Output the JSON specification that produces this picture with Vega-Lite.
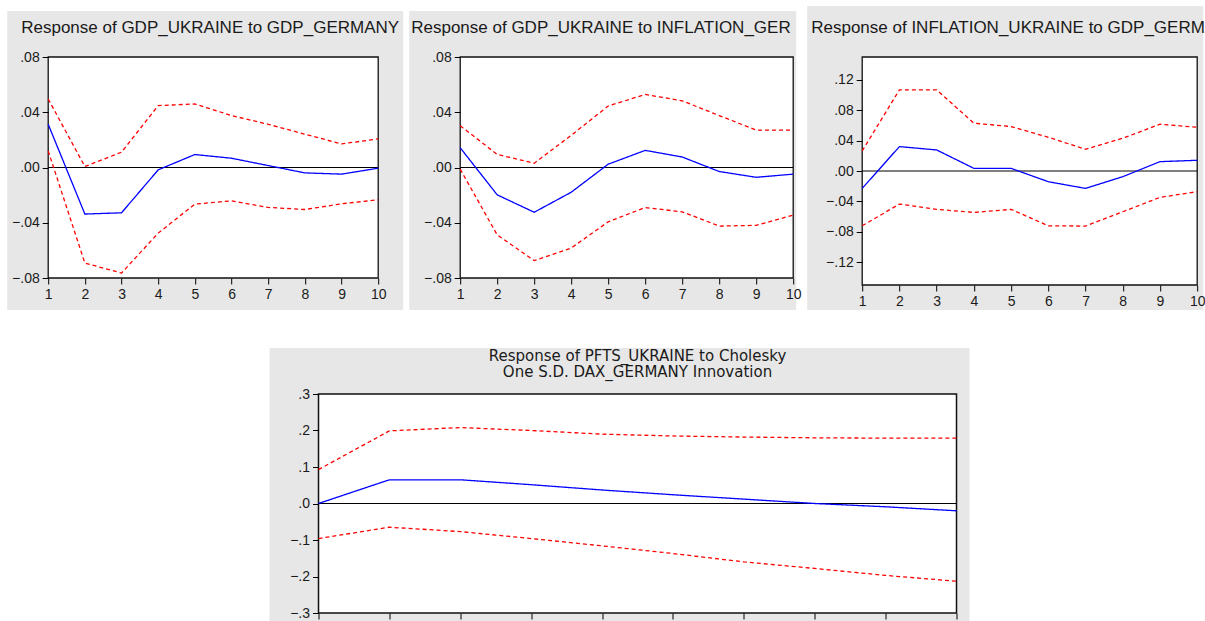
{
  "$schema": "https://vega.github.io/schema/vega-lite/v6.json",
  "background": "white",
  "padding": {"left": 7, "top": 6, "right": 0, "bottom": 0},
  "config": {
    "view": {"stroke": null},
    "axis": {"domain": false, "grid": false, "ticks": true, "tickColor": "#000000", "tickSize": 6, "tickWidth": 1, "labelFont": "Liberation Sans", "labelFontSize": 14, "labelColor": "#1a1a1a", "labelPadding": 3, "labelOverlap": false, "labelFlush": false, "labelBound": false}
  },
  "datasets": {
    "p1": [
      {"h": 1, "s": "irf", "v": 0.0313}, {"h": 2, "s": "irf", "v": -0.0337}, {"h": 3, "s": "irf", "v": -0.0328}, {"h": 4, "s": "irf", "v": -0.0017}, {"h": 5, "s": "irf", "v": 0.0094},
      {"h": 6, "s": "irf", "v": 0.0067}, {"h": 7, "s": "irf", "v": 0.0014}, {"h": 8, "s": "irf", "v": -0.0039}, {"h": 9, "s": "irf", "v": -0.0048}, {"h": 10, "s": "irf", "v": -0.0005},
      {"h": 1, "s": "hi", "v": 0.0496}, {"h": 2, "s": "hi", "v": 0.0007}, {"h": 3, "s": "hi", "v": 0.0111}, {"h": 4, "s": "hi", "v": 0.0448}, {"h": 5, "s": "hi", "v": 0.046},
      {"h": 6, "s": "hi", "v": 0.0376}, {"h": 7, "s": "hi", "v": 0.0313}, {"h": 8, "s": "hi", "v": 0.0241}, {"h": 9, "s": "hi", "v": 0.0171}, {"h": 10, "s": "hi", "v": 0.0207},
      {"h": 1, "s": "lo", "v": 0.012}, {"h": 2, "s": "lo", "v": -0.0692}, {"h": 3, "s": "lo", "v": -0.0764}, {"h": 4, "s": "lo", "v": -0.0475}, {"h": 5, "s": "lo", "v": -0.0265},
      {"h": 6, "s": "lo", "v": -0.0241}, {"h": 7, "s": "lo", "v": -0.0289}, {"h": 8, "s": "lo", "v": -0.0304}, {"h": 9, "s": "lo", "v": -0.0263}, {"h": 10, "s": "lo", "v": -0.0234}
    ],
    "p2": [
      {"h": 1, "s": "irf", "v": 0.0143}, {"h": 2, "s": "irf", "v": -0.0198}, {"h": 3, "s": "irf", "v": -0.0324}, {"h": 4, "s": "irf", "v": -0.0179}, {"h": 5, "s": "irf", "v": 0.0024},
      {"h": 6, "s": "irf", "v": 0.0124}, {"h": 7, "s": "irf", "v": 0.0076}, {"h": 8, "s": "irf", "v": -0.0029}, {"h": 9, "s": "irf", "v": -0.0071}, {"h": 10, "s": "irf", "v": -0.0048},
      {"h": 1, "s": "hi", "v": 0.0302}, {"h": 2, "s": "hi", "v": 0.0095}, {"h": 3, "s": "hi", "v": 0.0031}, {"h": 4, "s": "hi", "v": 0.0233}, {"h": 5, "s": "hi", "v": 0.0445},
      {"h": 6, "s": "hi", "v": 0.0529}, {"h": 7, "s": "hi", "v": 0.0483}, {"h": 8, "s": "hi", "v": 0.0376}, {"h": 9, "s": "hi", "v": 0.0271}, {"h": 10, "s": "hi", "v": 0.0271},
      {"h": 1, "s": "lo", "v": -0.0012}, {"h": 2, "s": "lo", "v": -0.0488}, {"h": 3, "s": "lo", "v": -0.0674}, {"h": 4, "s": "lo", "v": -0.0583}, {"h": 5, "s": "lo", "v": -0.0393},
      {"h": 6, "s": "lo", "v": -0.029}, {"h": 7, "s": "lo", "v": -0.0321}, {"h": 8, "s": "lo", "v": -0.0424}, {"h": 9, "s": "lo", "v": -0.0419}, {"h": 10, "s": "lo", "v": -0.0345}
    ],
    "p3": [
      {"h": 1, "s": "irf", "v": -0.0229}, {"h": 2, "s": "irf", "v": 0.0321}, {"h": 3, "s": "irf", "v": 0.0277}, {"h": 4, "s": "irf", "v": 0.0035}, {"h": 5, "s": "irf", "v": 0.0035},
      {"h": 6, "s": "irf", "v": -0.0141}, {"h": 7, "s": "irf", "v": -0.0229}, {"h": 8, "s": "irf", "v": -0.0075}, {"h": 9, "s": "irf", "v": 0.0123}, {"h": 10, "s": "irf", "v": 0.0141},
      {"h": 1, "s": "hi", "v": 0.0264}, {"h": 2, "s": "hi", "v": 0.1068}, {"h": 3, "s": "hi", "v": 0.1068}, {"h": 4, "s": "hi", "v": 0.0629}, {"h": 5, "s": "hi", "v": 0.0585},
      {"h": 6, "s": "hi", "v": 0.0444}, {"h": 7, "s": "hi", "v": 0.0286}, {"h": 8, "s": "hi", "v": 0.0431}, {"h": 9, "s": "hi", "v": 0.0615}, {"h": 10, "s": "hi", "v": 0.0576},
      {"h": 1, "s": "lo", "v": -0.0721}, {"h": 2, "s": "lo", "v": -0.0435}, {"h": 3, "s": "lo", "v": -0.0505}, {"h": 4, "s": "lo", "v": -0.0545}, {"h": 5, "s": "lo", "v": -0.0505},
      {"h": 6, "s": "lo", "v": -0.0721}, {"h": 7, "s": "lo", "v": -0.0725}, {"h": 8, "s": "lo", "v": -0.0536}, {"h": 9, "s": "lo", "v": -0.0347}, {"h": 10, "s": "lo", "v": -0.0272}
    ],
    "p4": [
      {"h": 1, "s": "irf", "v": 0.0}, {"h": 2, "s": "irf", "v": 0.065}, {"h": 3, "s": "irf", "v": 0.065}, {"h": 4, "s": "irf", "v": 0.0515}, {"h": 5, "s": "irf", "v": 0.037},
      {"h": 6, "s": "irf", "v": 0.024}, {"h": 7, "s": "irf", "v": 0.012}, {"h": 8, "s": "irf", "v": 0.0}, {"h": 9, "s": "irf", "v": -0.009}, {"h": 10, "s": "irf", "v": -0.02},
      {"h": 1, "s": "hi", "v": 0.093}, {"h": 2, "s": "hi", "v": 0.199}, {"h": 3, "s": "hi", "v": 0.208}, {"h": 4, "s": "hi", "v": 0.2}, {"h": 5, "s": "hi", "v": 0.19},
      {"h": 6, "s": "hi", "v": 0.185}, {"h": 7, "s": "hi", "v": 0.182}, {"h": 8, "s": "hi", "v": 0.18}, {"h": 9, "s": "hi", "v": 0.179}, {"h": 10, "s": "hi", "v": 0.179},
      {"h": 1, "s": "lo", "v": -0.096}, {"h": 2, "s": "lo", "v": -0.065}, {"h": 3, "s": "lo", "v": -0.077}, {"h": 4, "s": "lo", "v": -0.096}, {"h": 5, "s": "lo", "v": -0.116},
      {"h": 6, "s": "lo", "v": -0.137}, {"h": 7, "s": "lo", "v": -0.16}, {"h": 8, "s": "lo", "v": -0.178}, {"h": 9, "s": "lo", "v": -0.197}, {"h": 10, "s": "lo", "v": -0.213}
    ]
  },
  "spacing": 37,
  "center": true,
  "vconcat": [
    {
      "spacing": 5,
      "hconcat": [
        {
          "width": 330, "height": 221,
          "title": {"text": "Response of GDP_UKRAINE to GDP_GERMANY", "anchor": "start", "frame": "group", "dx": -27, "offset": -39, "baseline": "alphabetic", "font": "Liberation Sans", "fontSize": 17, "fontWeight": "normal", "color": "#1a1a1a", "zindex": 1},
          "layer": [
            {"data": {"values": [{}]}, "mark": {"type": "rect", "fill": "#e7e7e7"},
             "encoding": {
               "x": {"datum": -0.118, "type": "quantitative", "scale": {"domain": [1, 10], "nice": false, "zero": false}, "axis": {"title": null, "zindex": 1, "values": [1,2,3,4,5,6,7,8,9,10], "format": "d"}},
               "x2": {"datum": 10.682},
               "y": {"datum": 0.1133, "type": "quantitative", "scale": {"domain": [-0.08, 0.08], "nice": false, "zero": false}, "axis": {"title": null, "zindex": 1, "values": [-0.08,-0.04,0,0.04,0.08], "labelExpr": "replace(format(datum.value, '.2f'), '0.', '.')"}},
               "y2": {"datum": -0.1032}}},
            {"data": {"values": [{}]}, "mark": {"type": "rect", "fill": "#ffffff", "stroke": "#111111", "strokeWidth": 1.3},
             "encoding": {
               "x": {"datum": 1, "type": "quantitative", "scale": {"domain": [1, 10], "nice": false, "zero": false}, "axis": {"title": null, "zindex": 1, "values": [1,2,3,4,5,6,7,8,9,10], "format": "d"}},
               "x2": {"datum": 10},
               "y": {"datum": 0.08, "type": "quantitative", "scale": {"domain": [-0.08, 0.08], "nice": false, "zero": false}, "axis": {"title": null, "zindex": 1, "values": [-0.08,-0.04,0,0.04,0.08], "labelExpr": "replace(format(datum.value, '.2f'), '0.', '.')"}},
               "y2": {"datum": -0.08}}},
            {"data": {"values": [{}]}, "mark": {"type": "rule", "color": "#000000", "strokeWidth": 1},
             "encoding": {
               "x": {"datum": 1, "type": "quantitative", "scale": {"domain": [1, 10], "nice": false, "zero": false}, "axis": {"title": null, "zindex": 1, "values": [1,2,3,4,5,6,7,8,9,10], "format": "d"}},
               "x2": {"datum": 10},
               "y": {"datum": 0, "type": "quantitative", "scale": {"domain": [-0.08, 0.08], "nice": false, "zero": false}, "axis": {"title": null, "zindex": 1, "values": [-0.08,-0.04,0,0.04,0.08], "labelExpr": "replace(format(datum.value, '.2f'), '0.', '.')"}}}},
            {"data": {"name": "p1"}, "mark": {"type": "line", "strokeWidth": 1.3},
             "encoding": {
               "x": {"field": "h", "type": "quantitative", "scale": {"domain": [1, 10], "nice": false, "zero": false}, "axis": {"title": null, "zindex": 1, "values": [1,2,3,4,5,6,7,8,9,10], "format": "d"}},
               "y": {"field": "v", "type": "quantitative", "scale": {"domain": [-0.08, 0.08], "nice": false, "zero": false}, "axis": {"title": null, "zindex": 1, "values": [-0.08,-0.04,0,0.04,0.08], "labelExpr": "replace(format(datum.value, '.2f'), '0.', '.')"}},
               "color": {"field": "s", "type": "nominal", "scale": {"domain": ["irf", "hi", "lo"], "range": ["#0000ff", "#ff0000", "#ff0000"]}, "legend": null},
               "strokeDash": {"field": "s", "type": "nominal", "scale": {"domain": ["irf", "hi", "lo"], "range": [[1, 0], [4, 3], [4, 3]]}, "legend": null}}}
          ]
        },
        {
          "width": 333, "height": 221,
          "title": {"text": "Response of GDP_UKRAINE to INFLATION_GER", "anchor": "start", "frame": "group", "dx": -49, "offset": -39, "baseline": "alphabetic", "font": "Liberation Sans", "fontSize": 17, "fontWeight": "normal", "color": "#1a1a1a", "zindex": 1},
          "layer": [
            {"data": {"values": [{}]}, "mark": {"type": "rect", "fill": "#e7e7e7"},
             "encoding": {
               "x": {"datum": -0.378, "type": "quantitative", "scale": {"domain": [1, 10], "nice": false, "zero": false}, "axis": {"title": null, "zindex": 1, "values": [1,2,3,4,5,6,7,8,9,10], "format": "d"}},
               "x2": {"datum": 10.081},
               "y": {"datum": 0.1133, "type": "quantitative", "scale": {"domain": [-0.08, 0.08], "nice": false, "zero": false}, "axis": {"title": null, "zindex": 1, "values": [-0.08,-0.04,0,0.04,0.08], "labelExpr": "replace(format(datum.value, '.2f'), '0.', '.')"}},
               "y2": {"datum": -0.1032}}},
            {"data": {"values": [{}]}, "mark": {"type": "rect", "fill": "#ffffff", "stroke": "#111111", "strokeWidth": 1.3},
             "encoding": {
               "x": {"datum": 1, "type": "quantitative", "scale": {"domain": [1, 10], "nice": false, "zero": false}, "axis": {"title": null, "zindex": 1, "values": [1,2,3,4,5,6,7,8,9,10], "format": "d"}},
               "x2": {"datum": 10},
               "y": {"datum": 0.08, "type": "quantitative", "scale": {"domain": [-0.08, 0.08], "nice": false, "zero": false}, "axis": {"title": null, "zindex": 1, "values": [-0.08,-0.04,0,0.04,0.08], "labelExpr": "replace(format(datum.value, '.2f'), '0.', '.')"}},
               "y2": {"datum": -0.08}}},
            {"data": {"values": [{}]}, "mark": {"type": "rule", "color": "#000000", "strokeWidth": 1},
             "encoding": {
               "x": {"datum": 1, "type": "quantitative", "scale": {"domain": [1, 10], "nice": false, "zero": false}, "axis": {"title": null, "zindex": 1, "values": [1,2,3,4,5,6,7,8,9,10], "format": "d"}},
               "x2": {"datum": 10},
               "y": {"datum": 0, "type": "quantitative", "scale": {"domain": [-0.08, 0.08], "nice": false, "zero": false}, "axis": {"title": null, "zindex": 1, "values": [-0.08,-0.04,0,0.04,0.08], "labelExpr": "replace(format(datum.value, '.2f'), '0.', '.')"}}}},
            {"data": {"name": "p2"}, "mark": {"type": "line", "strokeWidth": 1.3},
             "encoding": {
               "x": {"field": "h", "type": "quantitative", "scale": {"domain": [1, 10], "nice": false, "zero": false}, "axis": {"title": null, "zindex": 1, "values": [1,2,3,4,5,6,7,8,9,10], "format": "d"}},
               "y": {"field": "v", "type": "quantitative", "scale": {"domain": [-0.08, 0.08], "nice": false, "zero": false}, "axis": {"title": null, "zindex": 1, "values": [-0.08,-0.04,0,0.04,0.08], "labelExpr": "replace(format(datum.value, '.2f'), '0.', '.')"}},
               "color": {"field": "s", "type": "nominal", "scale": {"domain": ["irf", "hi", "lo"], "range": ["#0000ff", "#ff0000", "#ff0000"]}, "legend": null},
               "strokeDash": {"field": "s", "type": "nominal", "scale": {"domain": ["irf", "hi", "lo"], "range": [[1, 0], [4, 3], [4, 3]]}, "legend": null}}}
          ]
        },
        {
          "width": 335, "height": 228,
          "title": {"text": "Response of INFLATION_UKRAINE to GDP_GERMANY", "anchor": "start", "frame": "group", "dx": -51, "offset": -44, "baseline": "alphabetic", "font": "Liberation Sans", "fontSize": 17, "fontWeight": "normal", "color": "#1a1a1a", "zindex": 1},
          "layer": [
            {"data": {"values": [{}]}, "mark": {"type": "rect", "fill": "#e7e7e7"},
             "encoding": {
               "x": {"datum": -0.478, "type": "quantitative", "scale": {"domain": [1, 10], "nice": false, "zero": false}, "axis": {"title": null, "zindex": 1, "values": [1,2,3,4,5,6,7,8,9,10], "format": "d"}},
               "x2": {"datum": 10.161},
               "y": {"datum": 0.2171, "type": "quantitative", "scale": {"domain": [-0.15, 0.15], "nice": false, "zero": false}, "axis": {"title": null, "zindex": 1, "values": [-0.12,-0.08,-0.04,0,0.04,0.08,0.12], "labelExpr": "replace(format(datum.value, '.2f'), '0.', '.')"}},
               "y2": {"datum": -0.1829}}},
            {"data": {"values": [{}]}, "mark": {"type": "rect", "fill": "#ffffff", "stroke": "#111111", "strokeWidth": 1.3},
             "encoding": {
               "x": {"datum": 1, "type": "quantitative", "scale": {"domain": [1, 10], "nice": false, "zero": false}, "axis": {"title": null, "zindex": 1, "values": [1,2,3,4,5,6,7,8,9,10], "format": "d"}},
               "x2": {"datum": 10},
               "y": {"datum": 0.15, "type": "quantitative", "scale": {"domain": [-0.15, 0.15], "nice": false, "zero": false}, "axis": {"title": null, "zindex": 1, "values": [-0.12,-0.08,-0.04,0,0.04,0.08,0.12], "labelExpr": "replace(format(datum.value, '.2f'), '0.', '.')"}},
               "y2": {"datum": -0.15}}},
            {"data": {"values": [{}]}, "mark": {"type": "rule", "color": "#000000", "strokeWidth": 1},
             "encoding": {
               "x": {"datum": 1, "type": "quantitative", "scale": {"domain": [1, 10], "nice": false, "zero": false}, "axis": {"title": null, "zindex": 1, "values": [1,2,3,4,5,6,7,8,9,10], "format": "d"}},
               "x2": {"datum": 10},
               "y": {"datum": 0, "type": "quantitative", "scale": {"domain": [-0.15, 0.15], "nice": false, "zero": false}, "axis": {"title": null, "zindex": 1, "values": [-0.12,-0.08,-0.04,0,0.04,0.08,0.12], "labelExpr": "replace(format(datum.value, '.2f'), '0.', '.')"}}}},
            {"data": {"name": "p3"}, "mark": {"type": "line", "strokeWidth": 1.3},
             "encoding": {
               "x": {"field": "h", "type": "quantitative", "scale": {"domain": [1, 10], "nice": false, "zero": false}, "axis": {"title": null, "zindex": 1, "values": [1,2,3,4,5,6,7,8,9,10], "format": "d"}},
               "y": {"field": "v", "type": "quantitative", "scale": {"domain": [-0.15, 0.15], "nice": false, "zero": false}, "axis": {"title": null, "zindex": 1, "values": [-0.12,-0.08,-0.04,0,0.04,0.08,0.12], "labelExpr": "replace(format(datum.value, '.2f'), '0.', '.')"}},
               "color": {"field": "s", "type": "nominal", "scale": {"domain": ["irf", "hi", "lo"], "range": ["#0000ff", "#ff0000", "#ff0000"]}, "legend": null},
               "strokeDash": {"field": "s", "type": "nominal", "scale": {"domain": ["irf", "hi", "lo"], "range": [[1, 0], [4, 3], [4, 3]]}, "legend": null}}}
          ]
        }
      ]
    },
    {
      "width": 638, "height": 219,
      "title": {"text": ["Response of PFTS_UKRAINE to Cholesky", "One S.D. DAX_GERMANY Innovation"], "anchor": "middle", "frame": "group", "offset": -47, "baseline": "bottom", "lineHeight": 16, "font": "DejaVu Sans", "fontSize": 15, "fontWeight": "normal", "color": "#1a1a1a", "zindex": 1},
      "layer": [
        {"data": {"values": [{}]}, "mark": {"type": "rect", "fill": "#e7e7e7"},
         "encoding": {
           "x": {"datum": 0.309, "type": "quantitative", "scale": {"domain": [1, 10], "nice": false, "zero": false}, "axis": {"title": null, "zindex": 1, "values": [1,2,3,4,5,6,7,8,9,10], "format": "d"}},
           "x2": {"datum": 10.183},
           "y": {"datum": 0.426, "type": "quantitative", "scale": {"domain": [-0.3, 0.3], "nice": false, "zero": false}, "axis": {"title": null, "zindex": 1, "values": [-0.3,-0.2,-0.1,0,0.1,0.2,0.3], "labelExpr": "replace(format(datum.value, '.1f'), '0.', '.')"}},
           "y2": {"datum": -0.382}}},
        {"data": {"values": [{}]}, "mark": {"type": "rect", "fill": "#ffffff", "stroke": "#111111", "strokeWidth": 1.5},
         "encoding": {
           "x": {"datum": 1, "type": "quantitative", "scale": {"domain": [1, 10], "nice": false, "zero": false}, "axis": {"title": null, "zindex": 1, "values": [1,2,3,4,5,6,7,8,9,10], "format": "d"}},
           "x2": {"datum": 10},
           "y": {"datum": 0.3, "type": "quantitative", "scale": {"domain": [-0.3, 0.3], "nice": false, "zero": false}, "axis": {"title": null, "zindex": 1, "values": [-0.3,-0.2,-0.1,0,0.1,0.2,0.3], "labelExpr": "replace(format(datum.value, '.1f'), '0.', '.')"}},
           "y2": {"datum": -0.3}}},
        {"data": {"values": [{}]}, "mark": {"type": "rule", "color": "#000000", "strokeWidth": 1.2},
         "encoding": {
           "x": {"datum": 1, "type": "quantitative", "scale": {"domain": [1, 10], "nice": false, "zero": false}, "axis": {"title": null, "zindex": 1, "values": [1,2,3,4,5,6,7,8,9,10], "format": "d"}},
           "x2": {"datum": 10},
           "y": {"datum": 0, "type": "quantitative", "scale": {"domain": [-0.3, 0.3], "nice": false, "zero": false}, "axis": {"title": null, "zindex": 1, "values": [-0.3,-0.2,-0.1,0,0.1,0.2,0.3], "labelExpr": "replace(format(datum.value, '.1f'), '0.', '.')"}}}},
        {"data": {"name": "p4"}, "mark": {"type": "line", "strokeWidth": 1.3},
         "encoding": {
           "x": {"field": "h", "type": "quantitative", "scale": {"domain": [1, 10], "nice": false, "zero": false}, "axis": {"title": null, "zindex": 1, "values": [1,2,3,4,5,6,7,8,9,10], "format": "d"}},
           "y": {"field": "v", "type": "quantitative", "scale": {"domain": [-0.3, 0.3], "nice": false, "zero": false}, "axis": {"title": null, "zindex": 1, "values": [-0.3,-0.2,-0.1,0,0.1,0.2,0.3], "labelExpr": "replace(format(datum.value, '.1f'), '0.', '.')"}},
           "color": {"field": "s", "type": "nominal", "scale": {"domain": ["irf", "hi", "lo"], "range": ["#0000ff", "#ff0000", "#ff0000"]}, "legend": null},
           "strokeDash": {"field": "s", "type": "nominal", "scale": {"domain": ["irf", "hi", "lo"], "range": [[1, 0], [5, 3], [5, 3]]}, "legend": null}}}
      ]
    }
  ]
}
